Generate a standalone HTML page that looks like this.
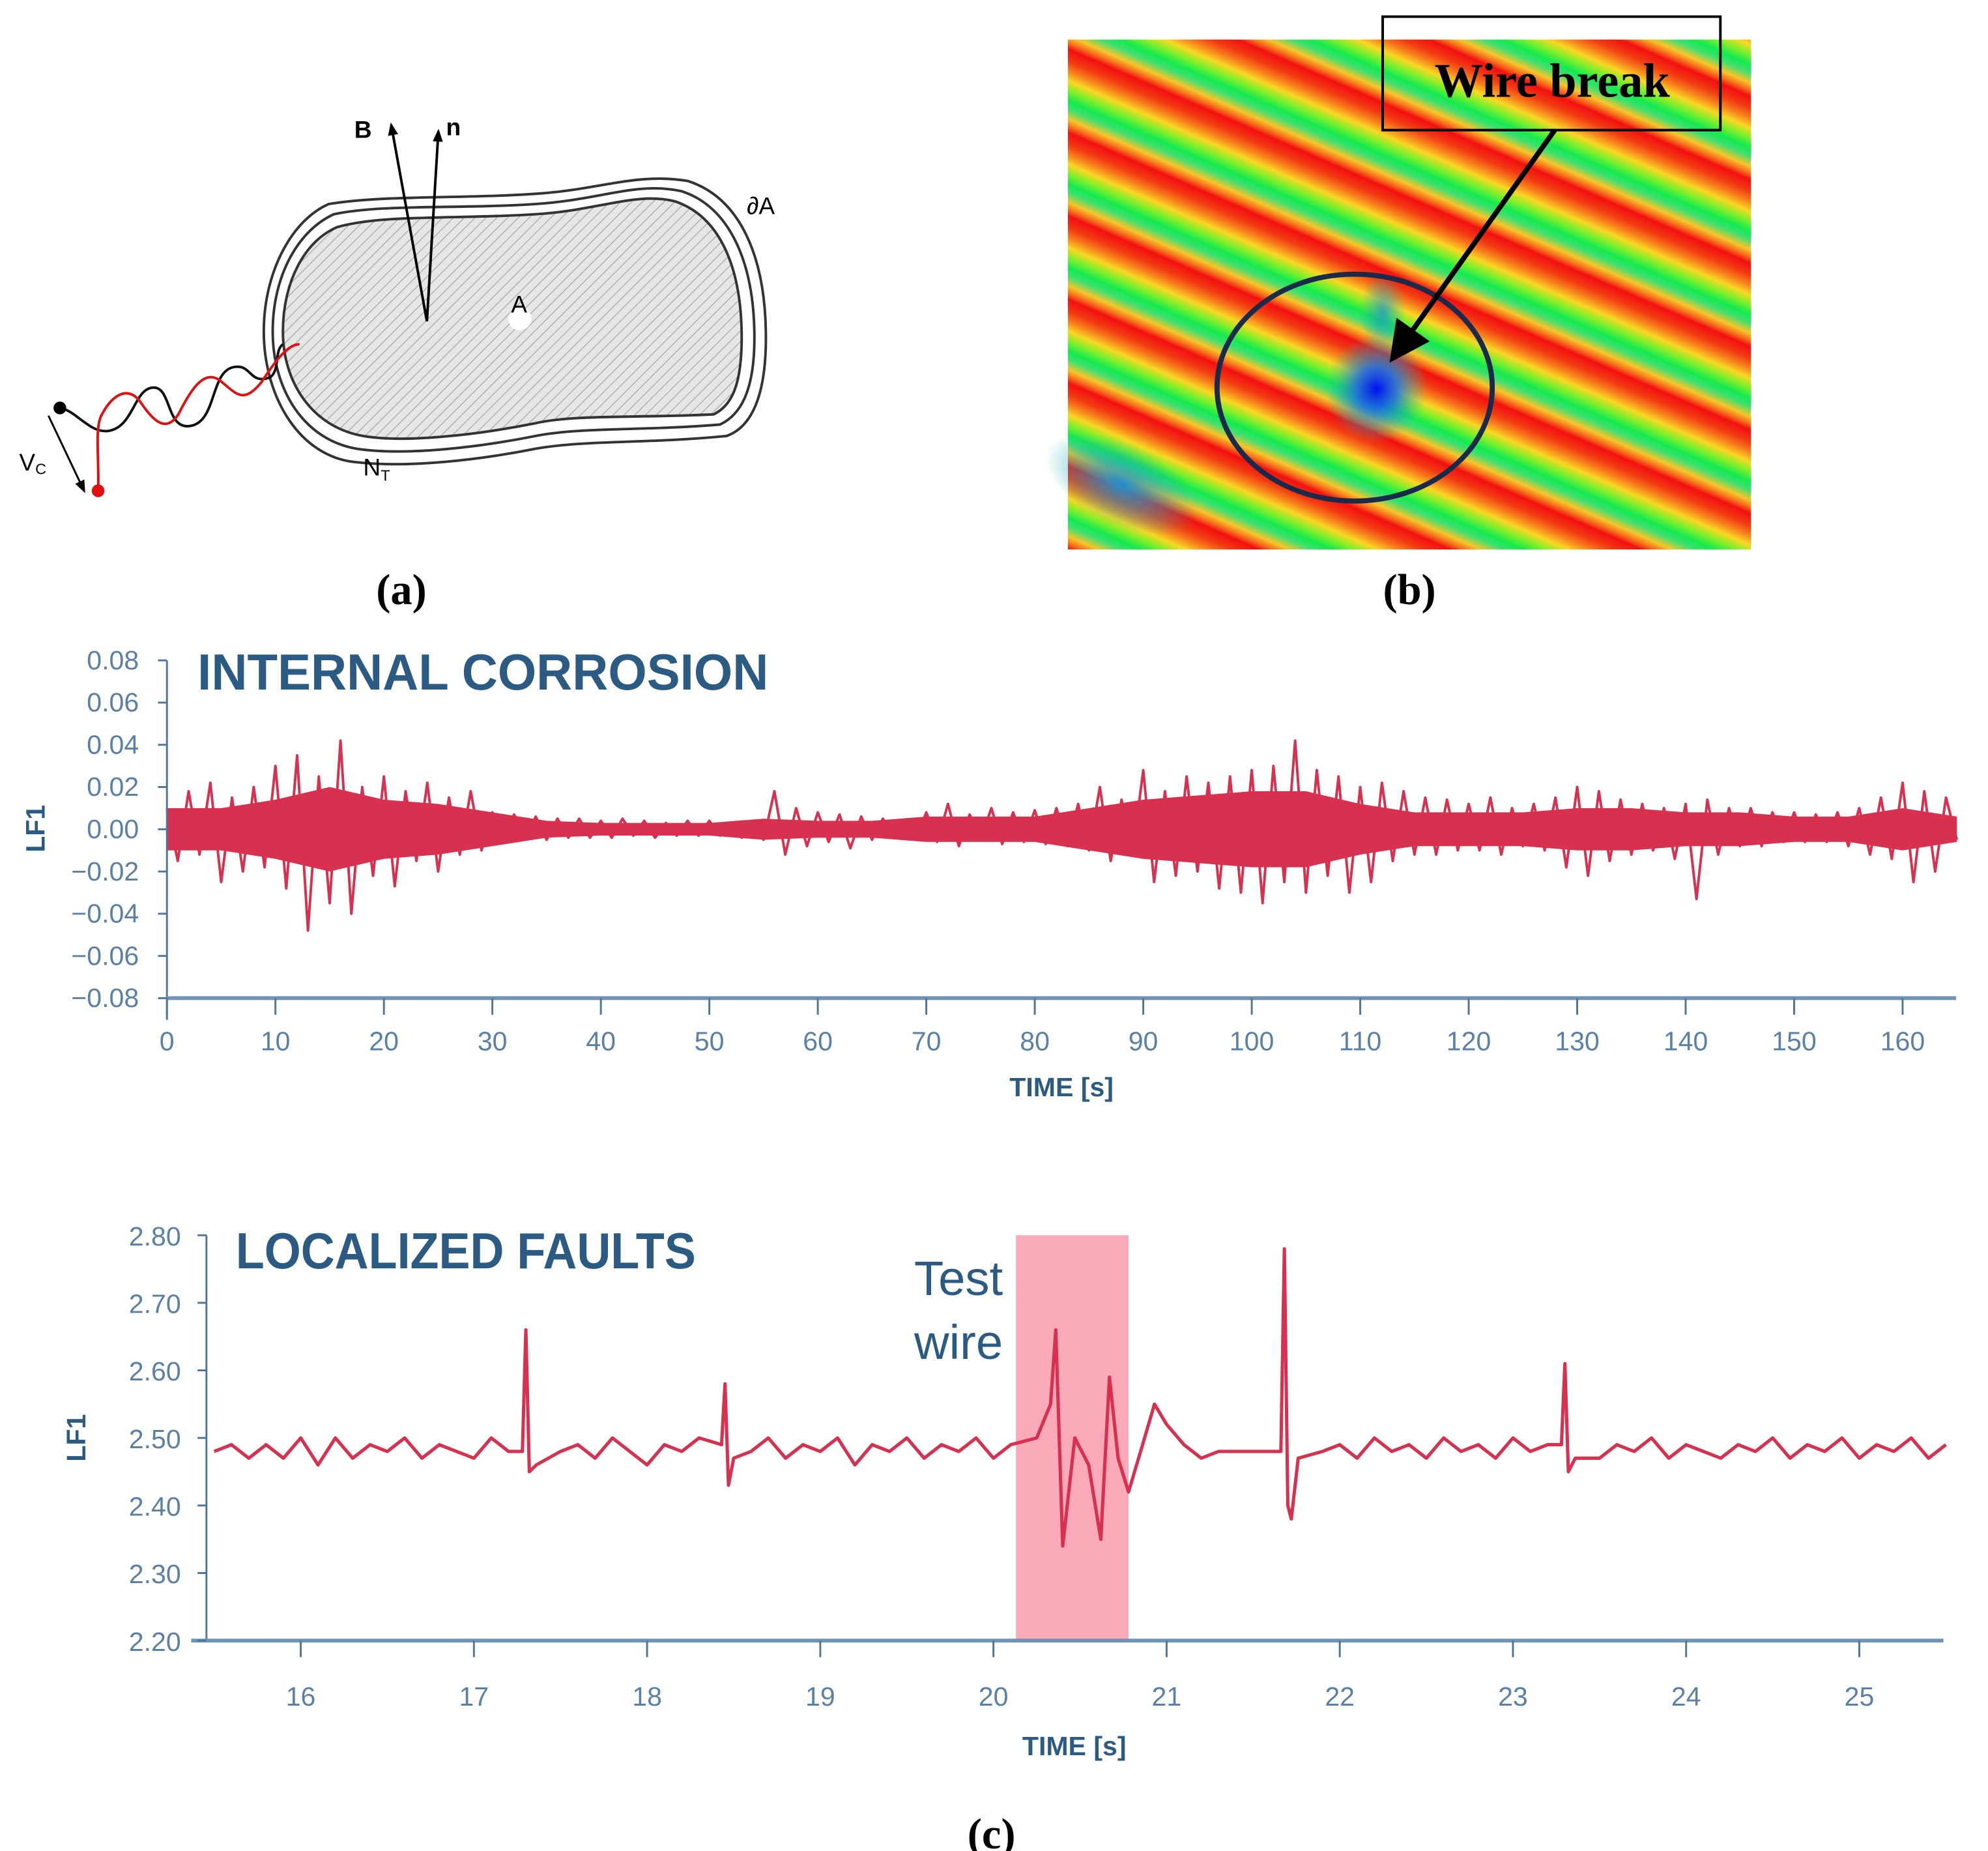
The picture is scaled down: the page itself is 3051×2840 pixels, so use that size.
<!DOCTYPE html>
<html><head><meta charset="utf-8">
<style>
html,body{margin:0;padding:0;background:#fff;}
svg{display:block;}
.tk{font-family:"Liberation Sans Narrow","Liberation Sans",sans-serif;fill:#5b80a6;font-size:21px;}
.ttl{font-family:"Liberation Sans Narrow","Liberation Sans",sans-serif;fill:#2b5a82;font-size:40px;font-weight:bold;}
.axt{font-family:"Liberation Sans Narrow","Liberation Sans",sans-serif;fill:#2b5a82;font-size:21px;font-weight:bold;}
.cap{font-family:"Liberation Serif",serif;font-size:34px;font-weight:bold;fill:#000;}
</style></head>
<body>
<svg id="fig" width="3051" height="2840" viewBox="0 0 1560 1452" xmlns="http://www.w3.org/2000/svg">
<defs>
<pattern id="hatch" patternUnits="userSpaceOnUse" width="6" height="6" patternTransform="rotate(45)">
<rect width="6" height="6" fill="#e6e6e6"/><line x1="0" y1="0" x2="0" y2="6" stroke="#b0b0b0" stroke-width="1.5"/>
</pattern>
<linearGradient id="stripes" gradientUnits="userSpaceOnUse" x1="0" y1="0" x2="-24" y2="55" spreadMethod="repeat">
<stop offset="0" stop-color="#f21010"/><stop offset="0.14" stop-color="#f23a12"/><stop offset="0.26" stop-color="#f7801c"/>
<stop offset="0.38" stop-color="#f9d824"/><stop offset="0.5" stop-color="#7cf02a"/><stop offset="0.62" stop-color="#14ea50"/>
<stop offset="0.72" stop-color="#40e070"/><stop offset="0.84" stop-color="#f7c52a"/><stop offset="0.93" stop-color="#f56a1a"/><stop offset="1" stop-color="#f21010"/>
</linearGradient>
<radialGradient id="blue1"><stop offset="0" stop-color="#0010f0"/><stop offset="0.4" stop-color="#1f6ee0" stop-opacity="0.9"/><stop offset="1" stop-color="#20c0a0" stop-opacity="0"/></radialGradient>
<radialGradient id="blue2"><stop offset="0" stop-color="#2090d0"/><stop offset="1" stop-color="#20b0b0" stop-opacity="0"/></radialGradient>
<marker id="arr" markerWidth="8" markerHeight="8" refX="6" refY="4" orient="auto" markerUnits="strokeWidth"><path d="M0,0 L8,4 L0,8 z" fill="#000"/></marker>
<marker id="arrs" markerWidth="10" markerHeight="10" refX="8" refY="5" orient="auto" markerUnits="userSpaceOnUse"><path d="M0,1 L10,5 L0,9 z" fill="#000"/></marker>
</defs>

<!-- Panel (a) -->
<g>
<path d="M265,178 C300,168 360,172 420,168 C470,165 500,150 530,158 C565,170 582,210 582,265 C582,300 575,318 560,325 C500,328 450,325 420,332 C380,340 320,348 285,342 C245,335 222,300 222,260 C222,220 240,188 265,178 Z" fill="url(#hatch)" stroke="#333" stroke-width="2"/>
<path fill="none" stroke="#333" stroke-width="2" d="M262,168 C300,160 360,164 420,160 C470,157 500,142 535,150 C572,162 592,205 592,265 C592,305 582,325 565,333 C505,338 455,335 420,342 C380,350 320,358 280,352 C238,345 214,305 214,260 C214,215 235,180 262,168 Z"/>
<path fill="none" stroke="#333" stroke-width="2" d="M258,160 C300,153 360,156 420,152 C470,149 500,135 540,142 C580,155 601,200 601,265 C601,310 590,335 570,342 C510,348 460,345 420,352 C380,360 320,368 275,362 C232,355 207,308 207,260 C207,212 230,172 258,160 Z"/>
<line x1="335" y1="252" x2="307" y2="98" stroke="#000" stroke-width="2" marker-end="url(#arrs)"/>
<line x1="335" y1="252" x2="344" y2="103" stroke="#000" stroke-width="2" marker-end="url(#arrs)"/>
<text x="278" y="108" font-family="Liberation Sans,sans-serif" font-weight="bold" font-size="19">B</text>
<text x="350" y="106" font-family="Liberation Sans,sans-serif" font-weight="bold" font-size="19">n</text>
<circle cx="408" cy="250" r="9" fill="#fff"/>
<text x="401" y="245" font-family="Liberation Sans,sans-serif" font-size="19">A</text>
<text x="586" y="168" font-family="Liberation Sans,sans-serif" font-size="19">∂A</text>
<text x="285" y="373" font-family="Liberation Sans,sans-serif" font-size="19">N<tspan font-size="12" dy="4">T</tspan></text>
<path fill="none" stroke="#111" stroke-width="2" d="M47,320 C60,322 70,340 85,338 C105,335 105,305 120,304 C135,303 130,338 150,334 C170,330 165,292 183,288 C198,285 195,302 212,296 C220,290 215,275 222,270"/>
<path fill="none" stroke="#e01010" stroke-width="2" d="M77,385 C78,360 74,335 80,325 C88,310 100,302 110,315 C120,330 130,340 140,325 C150,305 160,290 172,298 C185,308 190,318 205,300 C215,285 225,270 235,270"/>
<circle cx="47" cy="320" r="5" fill="#000"/>
<circle cx="77" cy="385" r="5" fill="#e01010"/>
<line x1="38" y1="326" x2="66" y2="385" stroke="#000" stroke-width="1.5" marker-end="url(#arrs)"/>
<text x="15" y="369" font-family="Liberation Sans,sans-serif" font-size="19">V<tspan font-size="12" dy="3">C</tspan></text>
</g>
<text class="cap" x="315" y="474" text-anchor="middle">(a)</text>

<!-- Panel (b) -->
<g>
<rect x="838" y="31" width="536" height="400" fill="url(#stripes)"/>
<ellipse cx="1080" cy="305" rx="40" ry="42" fill="url(#blue1)"/>
<ellipse cx="1085" cy="245" rx="18" ry="32" fill="url(#blue2)" opacity="0.8"/>
<ellipse cx="880" cy="380" rx="65" ry="32" fill="url(#blue2)" transform="rotate(25 880 380)"/>
<ellipse cx="1063" cy="304" rx="108" ry="89" fill="none" stroke="#1a2a4a" stroke-width="4"/>
<rect x="1085" y="13" width="265" height="89" fill="none" stroke="#000" stroke-width="2"/>
<text x="1218" y="76" text-anchor="middle" font-family="Liberation Serif,serif" font-weight="bold" font-size="38">Wire break</text>
<line x1="1220" y1="102" x2="1095" y2="278" stroke="#000" stroke-width="4" marker-end="url(#arr)"/>
</g>
<text class="cap" x="1106" y="474" text-anchor="middle">(b)</text>

<g id="c1"></g>
<g id="c2"></g>
<text class="cap" x="778" y="1450" text-anchor="middle">(c)</text>
</svg>

<script>
// ---- Chart 1 data: INTERNAL CORROSION ----
const c1YTicks = [0.08,0.06,0.04,0.02,0.00,-0.02,-0.04,-0.06,-0.08];
const c1XTicks = [0,10,20,30,40,50,60,70,80,90,100,110,120,130,140,150,160];
// core noise envelope (×0.001) every 5 s from t=0
const c1Envelope = [10,10,14,20,14,12,8,4,3,3,3,5,4,4,6,6,6,10,14,16,18,18,12,8,8,8,10,10,8,8,6,6,10,6];
// trace (×0.001) every 1 s from t=0
const c1Trace = [10,-15,18,-12,22,-25,15,-20,20,-18,
30,-28,35,-48,25,-35,42,-40,20,-22,
25,-27,18,-15,22,-20,15,-12,18,-10,
8,-6,7,-5,6,-5,5,-4,5,-4,
4,-4,5,-3,4,-4,3,-3,4,-3,
4,-3,3,-4,4,-5,18,-12,10,-8,
8,-6,7,-9,6,-5,5,-4,4,-5,
8,-6,12,-8,7,-5,10,-7,8,-6,
9,-7,10,-8,12,-10,20,-15,14,-12,
28,-25,18,-22,25,-20,22,-28,25,-30,
28,-35,30,-25,42,-30,28,-22,25,-30,
20,-25,22,-15,18,-12,15,-12,14,-10,
12,-10,15,-12,10,-8,12,-10,15,-18,
20,-22,18,-15,14,-12,12,-10,10,-14,
12,-33,14,-12,10,-8,10,-8,8,-6,
8,-6,7,-6,8,-8,10,-12,15,-14,
22,-25,18,-20,15,-5];

// ---- Chart 2 data: LOCALIZED FAULTS ----
const c2YTicks = [2.80,2.70,2.60,2.50,2.40,2.30,2.20];
const c2XTicks = [16,17,18,19,20,21,22,23,24,25];
// background noise every 0.1 s from t=15.5
const c2Noise = [2.48,2.49,2.47,2.49,2.47,2.50,2.46,2.50,2.47,2.49,
2.48,2.50,2.47,2.49,2.48,2.47,2.50,2.48,2.49,2.47,
2.48,2.49,2.47,2.50,2.48,2.46,2.49,2.48,2.50,2.47,
2.49,2.48,2.50,2.47,2.49,2.48,2.50,2.46,2.49,2.48,
2.50,2.47,2.49,2.48,2.50,2.47,2.49,2.48,2.47,2.49,
2.48,2.49,2.48,2.48,2.48,2.49,2.48,2.47,2.48,2.48,
2.48,2.49,2.47,2.50,2.48,2.49,2.47,2.50,2.48,2.49,
2.47,2.50,2.48,2.49,2.47,2.50,2.48,2.49,2.48,2.50,
2.47,2.49,2.48,2.50,2.47,2.49,2.48,2.47,2.49,2.48,
2.50,2.47,2.49,2.48,2.50,2.47,2.49,2.48,2.50,2.47,2.49];
const c2EventT = [17.28,17.30,17.32,17.36, 18.43,18.45,18.47,18.50,
20.25,20.33,20.36,20.40,20.47,20.55,20.62,20.67,20.72,20.78,20.85,20.93,21.00,21.10,
21.66,21.68,21.70,21.72,21.76, 23.28,23.30,23.32,23.36];
const c2EventV = [2.48,2.66,2.45,2.46, 2.49,2.58,2.43,2.47,
2.50,2.55,2.66,2.34,2.50,2.46,2.35,2.59,2.47,2.42,2.48,2.55,2.52,2.49,
2.48,2.78,2.40,2.38,2.47, 2.49,2.61,2.45,2.47];
const c2Band = [20.13, 20.78];

const NS='http://www.w3.org/2000/svg';
function mk(parent,tag,attrs){const e=document.createElementNS(NS,tag);for(const k in attrs)e.setAttribute(k,attrs[k]);parent.appendChild(e);return e;}

// Chart 1
(function(){
  const g=document.getElementById('c1');
  const x0=131,xPer=(1493-131)/160, yZero=650.5, yPer=(783-518)/0.16;
  const X=t=>x0+t*xPer, Y=v=>yZero-v*yPer;
  let up=[],dn=[];
  c1Envelope.forEach((e,i)=>{const t=Math.min(i*5,165);up.push(X(t)+','+Y(e/1000));dn.unshift(X(t)+','+Y(-e/1000));});
  const band=mk(g,'polygon',{points:up.concat(dn).join(' '),fill:'#d8304f'});
  
  
  const pts=c1Trace.map((v,i)=>X(i)+','+Y(v/1000)).join(' ');
  const line=mk(g,'polyline',{points:pts,fill:'none',stroke:'#d8304f','stroke-width':2,'stroke-linejoin':'round'});
  
  
  const ya=mk(g,'line',{x1:x0,y1:518,x2:x0,y2:800,stroke:'#4f7599','stroke-width':1.5});
  
  
  const xa=mk(g,'line',{x1:x0,y1:Y(-0.08),x2:1535,y2:Y(-0.08),stroke:'#6f93b3','stroke-width':3});
  
  
  c1YTicks.forEach(v=>{
    mk(g,'line',{x1:x0-7,y1:Y(v),x2:x0,y2:Y(v),stroke:'#4f7599','stroke-width':1.5});
    const t=mk(g,'text',{x:x0-22,y:Y(v)+7,'text-anchor':'end',class:'tk'});
    t.textContent=(v<0?'\u2212':'')+Math.abs(v).toFixed(2);
    
    
  });
  c1XTicks.forEach(v=>{
    mk(g,'line',{x1:X(v),y1:Y(-0.08),x2:X(v),y2:Y(-0.08)+13,stroke:'#4f7599','stroke-width':1.5});
    const t=mk(g,'text',{x:X(v),y:824,'text-anchor':'middle',class:'tk'});
    t.textContent=v;
    
    
  });
  const tt=mk(g,'text',{x:155,y:541,class:'ttl',textLength:448,lengthAdjust:'spacingAndGlyphs'});tt.textContent='INTERNAL CORROSION';
  
  
  const xt=mk(g,'text',{x:833,y:860,'text-anchor':'middle',class:'axt'});xt.textContent='TIME [s]';
  
  
  const yt=mk(g,'text',{x:0,y:0,'text-anchor':'middle',class:'axt',transform:'translate(35,650) rotate(-90)'});yt.textContent='LF1';
  
  
})();

// Chart 2
(function(){
  const g=document.getElementById('c2');
  const x0=162, xA=236, xPer=(1459-236)/9, yTop=969, yBot=1287;
  const X=t=>xA+(t-16)*xPer, Y=v=>yBot-(v-2.20)/0.6*(yBot-yTop);
  const band=mk(g,'rect',{x:X(c2Band[0]),y:yTop,width:X(c2Band[1])-X(c2Band[0]),height:yBot-yTop,fill:'#f9a9b8'});
  
  
  let pts=[];
  c2Noise.forEach((v,i)=>{const t=15.5+i*0.1;
    const near=c2EventT.some(e=>Math.abs(e-t)<0.06)||(t>20.2&&t<21.12);
    if(!near)pts.push([t,v]);});
  c2EventT.forEach((t,i)=>pts.push([t,c2EventV[i]]));
  pts.sort((a,b)=>a[0]-b[0]);
  const line=mk(g,'polyline',{points:pts.map(p=>X(p[0])+','+Y(p[1])).join(' '),fill:'none',stroke:'#d8304f','stroke-width':2.6,'stroke-linejoin':'round'});
  
  
  const ya=mk(g,'line',{x1:x0,y1:yTop,x2:x0,y2:yBot,stroke:'#4f7599','stroke-width':1.5});
  
  
  const xa=mk(g,'line',{x1:150,y1:yBot,x2:1525,y2:yBot,stroke:'#6f93b3','stroke-width':3});
  
  
  c2YTicks.forEach(v=>{
    mk(g,'line',{x1:x0-7,y1:Y(v),x2:x0,y2:Y(v),stroke:'#4f7599','stroke-width':1.5});
    const t=mk(g,'text',{x:x0-20,y:Y(v)+8,'text-anchor':'end',class:'tk'});
    t.textContent=v.toFixed(2);
    
    
  });
  c2XTicks.forEach(v=>{
    mk(g,'line',{x1:X(v),y1:yBot,x2:X(v),y2:yBot+13,stroke:'#4f7599','stroke-width':1.5});
    const t=mk(g,'text',{x:X(v),y:1338,'text-anchor':'middle',class:'tk'});
    t.textContent=v;
    
    
  });
  const tt=mk(g,'text',{x:185,y:995,class:'ttl',textLength:361,lengthAdjust:'spacingAndGlyphs'});tt.textContent='LOCALIZED FAULTS';
  
  
  const a1=mk(g,'text',{x:787,y:1016,'text-anchor':'end',class:'ttl',style:'font-weight:normal;font-size:38px'});a1.textContent='Test';
  
  
  const a2=mk(g,'text',{x:787,y:1066,'text-anchor':'end',class:'ttl',style:'font-weight:normal;font-size:38px'});a2.textContent='wire';
  
  
  const xt=mk(g,'text',{x:843,y:1377,'text-anchor':'middle',class:'axt'});xt.textContent='TIME [s]';
  
  
  const yt=mk(g,'text',{x:0,y:0,'text-anchor':'middle',class:'axt',transform:'translate(67,1128) rotate(-90)'});yt.textContent='LF1';
  
  
})();
</script>
</body></html>
